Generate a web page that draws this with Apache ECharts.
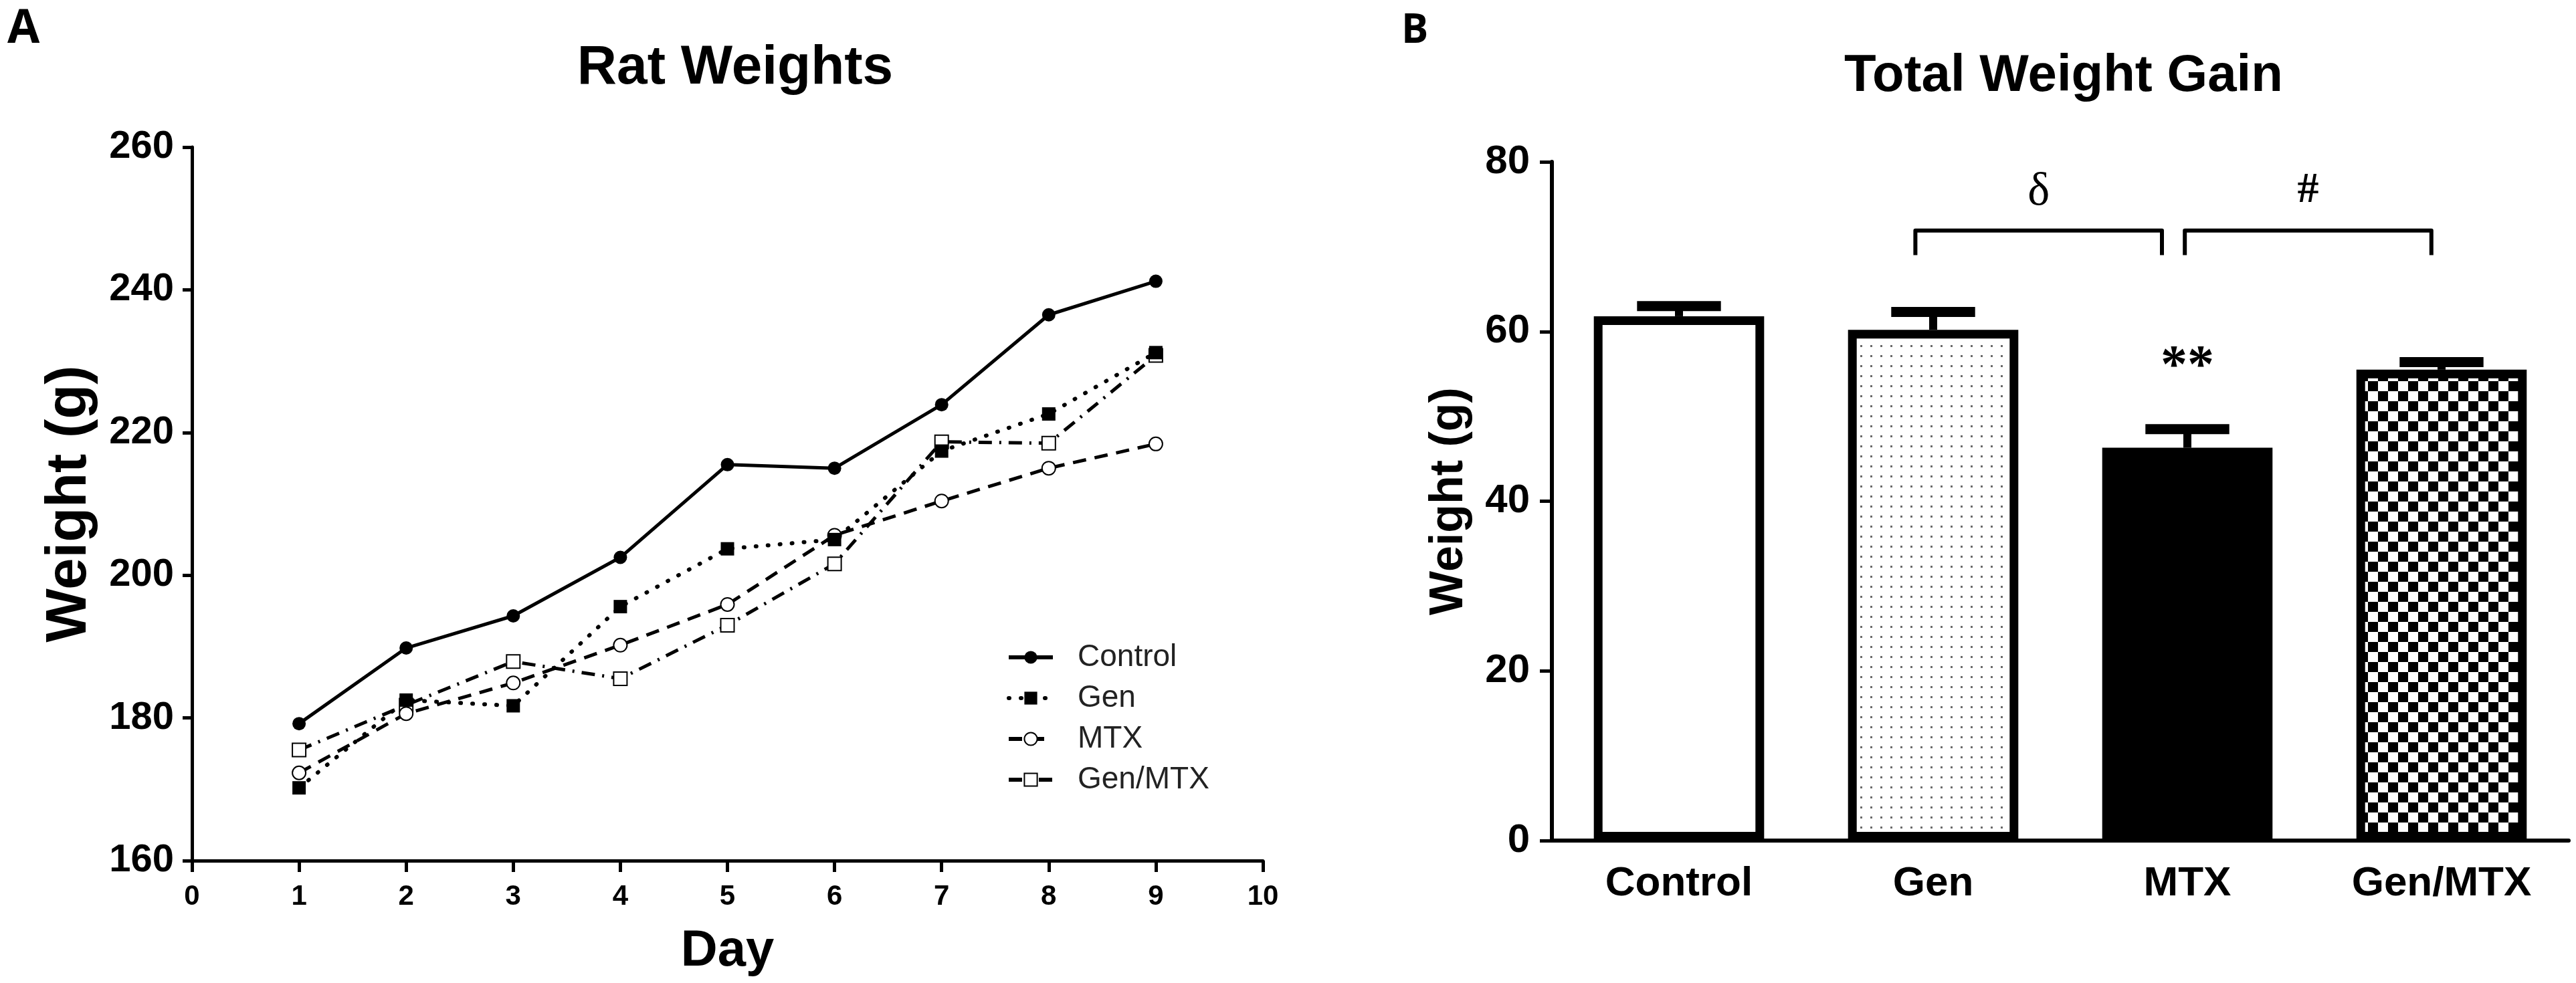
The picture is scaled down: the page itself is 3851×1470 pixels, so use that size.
<!DOCTYPE html>
<html>
<head>
<meta charset="utf-8">
<script src="https://cdn.jsdelivr.net/npm/echarts@6/dist/echarts.min.js"></script>
<style>
  html, body { margin: 0; padding: 0; background: #fff; }
  #main { width: 3851px; height: 1470px; }
</style>
</head>
<body>
<div id="main"></div>
<script>
// Rat weights per day (panel A)
var days = [1, 2, 3, 4, 5, 6, 7, 8, 9];
var controlW = [179.2, 189.8, 194.3, 202.5, 215.5, 215.0, 223.9, 236.5, 241.2];
var genW = [170.2, 182.5, 181.7, 195.6, 203.7, 205.0, 217.4, 222.6, 231.2];
var mtxW = [172.3, 180.6, 184.9, 190.2, 195.9, 205.6, 210.4, 215.0, 218.4];
var genMtxW = [175.5, 181.8, 187.9, 185.5, 193.0, 201.6, 218.7, 218.5, 230.8];

// Total weight gain (panel B)
var groups = ['Control', 'Gen', 'MTX', 'Gen/MTX'];
var gainMean = [61.8, 60.2, 46.3, 55.5];
var gainSem = [1.2, 2.1, 2.2, 0.9];

// significance brackets (category positions, y levels)
var bracketFrom = [0.93, 1.99];
var bracketTo = [1.90, 2.96];
var bracketTop = [71.9, 71.9];
var bracketEnd = [69.0, 69.0];
var bracketText = ['δ', '#'];
var bracketTextY = [76.4, 76.6];
var starCat = [2];
var starY = [56.3];
var starText = ['**'];

var FONT = "'Liberation Sans', Arial, sans-serif";

function dotPattern() {
    var c = document.createElement('canvas');
    c.width = 15; c.height = 15;
    var g = c.getContext('2d');
    g.fillStyle = '#fff';
    g.fillRect(0, 0, 15, 15);
    g.fillStyle = '#6a6a6a';
    g.fillRect(6, 6, 3, 3);
    return c;
}
function checkerPattern() {
    var c = document.createElement('canvas');
    c.width = 30; c.height = 30;
    var g = c.getContext('2d');
    g.fillStyle = '#fff';
    g.fillRect(0, 0, 30, 30);
    g.fillStyle = '#000';
    g.fillRect(0, 0, 15, 15);
    g.fillRect(15, 15, 15, 15);
    return c;
}

var barFills = ['#fff', { image: dotPattern(), repeat: 'repeat' }, '#000', { image: checkerPattern(), repeat: 'repeat' }];

function pairs(vals) {
    return days.map(function (d, i) { return [d, vals[i]]; });
}

var chart = echarts.init(document.getElementById('main'));

var lineCommon = {
    type: 'line',
    xAxisIndex: 0,
    yAxisIndex: 0,
    symbolSize: 20,
    color: '#000'
};

var option = {
    animation: false,
    backgroundColor: '#fff',
    textStyle: { fontFamily: FONT, color: '#000' },
    title: [
        { text: 'A', left: 6, top: 4, textStyle: { fontFamily: "'Open Sans', " + FONT, fontSize: 70, fontWeight: 'bold', color: '#000' } },
        { text: 'Rat Weights', left: 1094, top: 56, textAlign: 'center', textStyle: { fontSize: 82, fontWeight: 'bold', color: '#000' } },
        { text: 'B', left: 2090, top: 12, textStyle: { fontFamily: "'Open Sans', " + FONT, fontSize: 60, fontWeight: 'bold', color: '#000' } },
        { text: 'Total Weight Gain', left: 3080, top: 70, textAlign: 'center', textStyle: { fontSize: 78, fontWeight: 'bold', color: '#000' } }
    ],
    legend: {
        data: ['Control', 'Gen', 'MTX', 'Gen/MTX'],
        orient: 'vertical',
        left: 1500,
        top: 955,
        itemWidth: 66,
        itemHeight: 24,
        itemGap: 15,
        lineStyle: { width: 6 },
        textStyle: { fontFamily: FONT, fontSize: 46, lineHeight: 46, color: '#222', padding: [0, 0, 0, 32] }
    },
    grid: [
        { left: 287, top: 220, width: 1601, height: 1067 },
        { left: 2320, top: 242, width: 1520, height: 1015 }
    ],
    xAxis: [
        {
            gridIndex: 0, type: 'value', min: 0, max: 10, interval: 1,
            name: 'Day', nameLocation: 'middle', nameGap: 98,
            nameTextStyle: { fontSize: 76, fontWeight: 'bold', color: '#000' },
            axisLine: { lineStyle: { color: '#000', width: 5 } },
            axisTick: { length: 17, lineStyle: { color: '#000', width: 5 } },
            axisLabel: { fontSize: 42, fontWeight: 'bold', color: '#000', margin: 33 },
            splitLine: { show: false }
        },
        {
            gridIndex: 1, type: 'category', data: groups,
            axisLine: { lineStyle: { color: '#000', width: 6 } },
            axisTick: { alignWithLabel: true, length: 22, lineStyle: { color: '#000', width: 5 } },
            axisLabel: { fontSize: 62, fontWeight: 'bold', color: '#000', margin: 34 },
            splitLine: { show: false }
        }
    ],
    yAxis: [
        {
            gridIndex: 0, type: 'value', min: 160, max: 260, interval: 20,
            name: 'Weight (g)', nameLocation: 'middle', nameRotate: 90, nameGap: 140,
            nameTextStyle: { fontSize: 85, fontWeight: 'bold', color: '#000' },
            axisLine: { show: true, lineStyle: { color: '#000', width: 5 } },
            axisTick: { show: true, length: 14, lineStyle: { color: '#000', width: 5 } },
            axisLabel: { fontSize: 58, fontWeight: 'bold', color: '#000', margin: 27 },
            splitLine: { show: false }
        },
        {
            gridIndex: 1, type: 'value', min: 0, max: 80, interval: 20,
            name: 'Weight (g)', nameLocation: 'middle', nameRotate: 90, nameGap: 118,
            nameTextStyle: { fontSize: 70, fontWeight: 'bold', color: '#000' },
            axisLine: { show: true, lineStyle: { color: '#000', width: 6 } },
            axisTick: { show: true, length: 18, lineStyle: { color: '#000', width: 5 } },
            axisLabel: { fontSize: 60, fontWeight: 'bold', color: '#000', margin: 33 },
            splitLine: { show: false }
        }
    ],
    series: [
        echarts.util.merge({
            name: 'Gen/MTX', data: pairs(genMtxW), symbol: 'emptyRect',
            itemStyle: { color: '#000', borderWidth: 5 },
            lineStyle: { color: '#000', width: 5, type: [20, 11, 3, 11] }
        }, lineCommon),
        echarts.util.merge({
            name: 'MTX', data: pairs(mtxW), symbol: 'emptyCircle',
            itemStyle: { color: '#000', borderWidth: 5 },
            lineStyle: { color: '#000', width: 5, type: [20, 13] }
        }, lineCommon),
        echarts.util.merge({
            name: 'Gen', data: pairs(genW), symbol: 'rect',
            itemStyle: { color: '#000' },
            lineStyle: { color: '#000', width: 6, type: [1, 17], cap: 'round' }
        }, lineCommon),
        echarts.util.merge({
            name: 'Control', data: pairs(controlW), symbol: 'circle',
            itemStyle: { color: '#000' },
            lineStyle: { color: '#000', width: 5 }
        }, lineCommon),
        {
            type: 'bar',
            xAxisIndex: 1,
            yAxisIndex: 1,
            barWidth: '67%',
            data: gainMean.map(function (v, i) {
                return { value: v, itemStyle: { color: barFills[i], borderColor: '#000', borderWidth: 13 } };
            })
        },
        {
            // SEM error bars (upper only)
            type: 'custom',
            xAxisIndex: 1,
            yAxisIndex: 1,
            z: 3,
            data: gainMean.map(function (v, i) { return [i, v, v + gainSem[i]]; }),
            renderItem: function (params, api) {
                var base = api.coord([api.value(0), api.value(1)]);
                var top = api.coord([api.value(0), api.value(2)]);
                var half = api.size([1, 0])[0] * 0.165;
                return {
                    type: 'group',
                    children: [
                        { type: 'line', shape: { x1: base[0], y1: base[1], x2: top[0], y2: top[1] }, style: { stroke: '#000', lineWidth: 12 } },
                        { type: 'line', shape: { x1: top[0] - half, y1: top[1], x2: top[0] + half, y2: top[1] }, style: { stroke: '#000', lineWidth: 15 } }
                    ]
                };
            }
        },
        {
            // significance brackets
            type: 'custom',
            xAxisIndex: 1,
            yAxisIndex: 1,
            z: 4,
            data: bracketFrom.map(function (f, i) { return [f, bracketTo[i], bracketTop[i], bracketEnd[i], bracketTextY[i], i]; }),
            renderItem: function (params, api) {
                var band = api.size([1, 0])[0];
                function px(v, y) {
                    var b = Math.round(v);
                    var p = api.coord([b, y]);
                    return [p[0] + (v - b) * band, p[1]];
                }
                var i = api.value(5);
                var a = px(api.value(0), api.value(3));
                var b = px(api.value(0), api.value(2));
                var c = px(api.value(1), api.value(2));
                var d = px(api.value(1), api.value(3));
                var t = px((api.value(0) + api.value(1)) / 2, api.value(4));
                return {
                    type: 'group',
                    children: [
                        { type: 'polyline', shape: { points: [a, b, c, d] }, style: { stroke: '#000', lineWidth: 6, fill: null, lineJoin: 'round' } },
                        {
                            type: 'text',
                            style: {
                                text: bracketText[i], x: t[0], y: t[1], align: 'center', verticalAlign: 'middle',
                                fontFamily: "'Liberation Serif', 'DejaVu Serif', serif",
                                fontSize: i === 0 ? 70 : 64, fontWeight: i === 0 ? 'normal' : 'bold', fill: '#000'
                            }
                        }
                    ]
                };
            }
        },
        {
            type: 'custom',
            xAxisIndex: 1,
            yAxisIndex: 1,
            z: 4,
            data: starCat.map(function (c, i) { return [c, starY[i], i]; }),
            renderItem: function (params, api) {
                var p = api.coord([api.value(0), api.value(1)]);
                return {
                    type: 'text',
                    style: {
                        text: starText[api.value(2)], x: p[0], y: p[1] + 8, align: 'center', verticalAlign: 'middle',
                        fontFamily: "'Liberation Serif', 'DejaVu Serif', serif", fontSize: 80, fontWeight: 'bold', fill: '#000'
                    }
                };
            }
        }
    ]
};

chart.setOption(option);
</script>
</body>
</html>
